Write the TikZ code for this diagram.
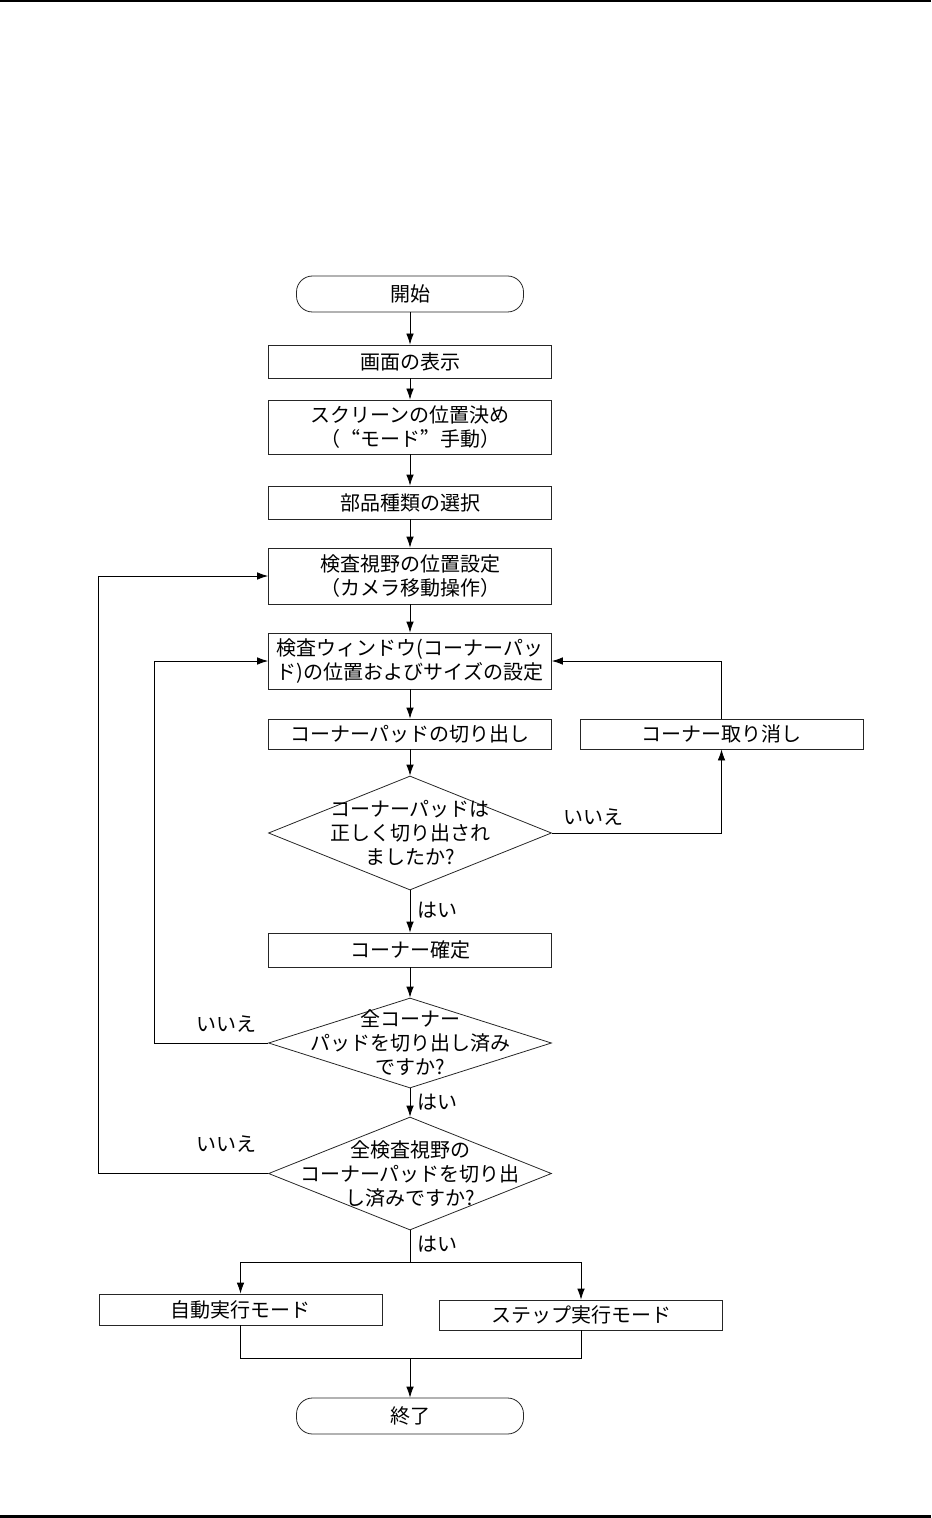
\documentclass[tikz,border=0pt]{standalone}
\usepackage{fontspec}
\setmainfont{Noto Sans CJK JP}
\usetikzlibrary{shapes.geometric,arrows.meta}

\begin{document}
\begin{tikzpicture}[x=0.5pt,y=-0.5pt,shorten >=0pt,-,>={Latex[length=5.5pt,width=3.8pt]},font=\fontsize{10}{12}\selectfont]
                \tikzstyle{process}=[rectangle,draw=black!85,minimum width=141.5pt,minimum height=16.5pt,inner sep=2pt,align=center]
                \tikzstyle{terminal}=[rectangle,rounded corners=8pt,draw=black!85,minimum width=113.5pt,minimum height=18pt,inner sep=2pt]
                \tikzstyle{decision}=[diamond,draw=black!85,minimum width=141.5pt,inner sep=0pt]
                \tikzstyle{answer}=[inner sep=1pt]
                \useasboundingbox (0,0) rectangle (931,1518);
                \draw[line width=1pt] (0,1) -- (931,1);
                \draw[line width=1.5pt] (0,1516) -- (931,1516);

                \node[terminal] (S) at (410,294) {開始};
                \node[process] (P-1) at (410,361.5) {画面の表示};
                \node[process,minimum height=27pt] (P-2) at (410,427) {スクリーンの位置決め\\{\addfontfeature{CharacterWidth=Full}（“モード”手動）}};
                \node[process] (P-3) at (410,502.5) {部品種類の選択};
                \node[process,minimum height=28pt] (P-4) at (410,576) {検査視野の位置設定\\（カメラ移動操作）};
                \node[process,minimum height=28pt] (P-5) at (410,661) {検査ウィンドウ(コーナーパッ\\ド)の位置およびサイズの設定};
                \node[process,minimum height=15pt] (P-6) at (410,734) {コーナーパッドの切り出し};
                \node[process,minimum height=15pt] (C) at (721.5,734) {コーナー取り消し};
                \node[decision,minimum height=57pt] (D-1) at (410,833) {};
                \node[align=center,inner sep=0pt] (D-1-text) at (410,833) {コーナーパッドは\\正しく切り出され\\ましたか?};
                \node[process,minimum height=17pt] (P-7) at (410,950) {コーナー確定};
                \node[decision,minimum height=45pt] (D-2) at (410,1043) {};
                \node[align=center,inner sep=0pt] (D-2-text) at (410,1043) {全コーナー\\パッドを切り出し済み\\ですか?};
                \node[decision,minimum height=56.5pt] (D-3) at (410,1173.5) {};
                \node[align=center,inner sep=0pt] (D-3-text) at (410,1173.5) {全検査視野の\\コーナーパッドを切り出\\し済みですか?};
                \node[process,minimum height=15.5pt] (A-1) at (240.5,1309.5) {自動実行モード};
                \node[process,minimum height=15pt] (A-2) at (581,1315) {ステップ実行モード};
                \node[terminal] (E) at (410,1416) {終了};

                \node[answer] (no-1) at (593,817) {いいえ};
                \node[answer] (yes-1) at (437,910) {はい};
                \node[answer] (no-2) at (226,1024) {いいえ};
                \node[answer] (yes-2) at (437,1102) {はい};
                \node[answer] (no-3) at (226,1144) {いいえ};
                \node[answer] (yes-3) at (437,1244) {はい};

                    \foreach \from/\to in {S/P-1, P-1/P-2, P-2/P-3, P-3/P-4, P-4/P-5, P-5/P-6, P-6/D-1, D-1/P-7, P-7/D-2, D-2/D-3}
                        \draw[->] (\from) -- (\to);

                    \draw[->] (D-1.east) -| (C.south);
                    \draw[->] (C.north) |- (P-5.east);
                    \draw[->] (D-2.west) -- ++(-114,0) |- (P-5.west);
                    \draw[->] (D-3.west) -- ++(-170,0) |- (P-4.west);

                    \coordinate (fork) at (410,1262);
                    \coordinate (join) at (410,1358);
                    \draw (D-3.south) -- (fork);
                    \draw[->] (fork) -| (A-1.north);
                    \draw[->] (fork) -| (A-2.north);
                    \draw (A-1.south) |- (join) -| (A-2.south);
                    \draw[->] (join) -- (E);
            \end{tikzpicture}
\end{document}
